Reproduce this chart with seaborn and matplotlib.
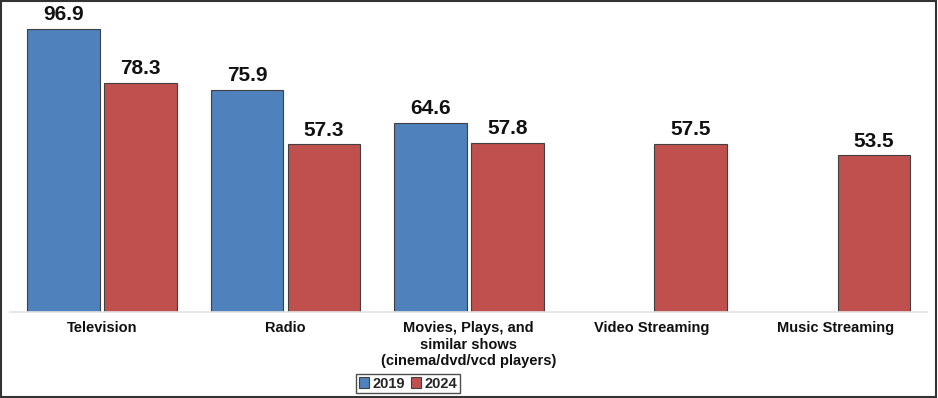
import matplotlib
matplotlib.use("Agg")
import matplotlib.pyplot as plt
import pandas as pd
import seaborn as sns

categories = [
    "Television",
    "Radio",
    "Movies, Plays, and\nsimilar shows\n(cinema/dvd/vcd players)",
    "Video Streaming",
    "Music Streaming",
]
years = ["2019", "2024"]
values_2019 = [96.9, 75.9, 64.6, None, None]
values_2024 = [78.3, 57.3, 57.8, 57.5, 53.5]
colors = ["#4F81BD", "#C0504D"]

rows = []
for cat, v19, v24 in zip(categories, values_2019, values_2024):
    if v19 is not None:
        rows.append({"category": cat, "year": "2019", "value": v19})
    rows.append({"category": cat, "year": "2024", "value": v24})
df = pd.DataFrame(rows)

sns.set_style("white")
plt.rcParams["font.family"] = ["Liberation Sans", "DejaVu Sans"]

fig = plt.figure(figsize=(9.38, 3.98), dpi=100)
ax = fig.add_axes([10.4 / 938, 86.3 / 398, 916.6 / 938, 306.6 / 398])

sns.barplot(
    data=df, x="category", y="value", hue="year",
    order=categories, hue_order=years, palette=colors, saturation=1,
    width=0.84, gap=0.057, edgecolor="#404040", linewidth=0.8,
    errorbar=None, ax=ax,
)

# value labels on top of each bar
for container in ax.containers:
    ax.bar_label(container, fmt="%.1f", padding=3.5, fontsize=15,
                 fontweight="bold", color="#111111")

ax.set_ylim(0, 105)
ax.set_xlim(-0.5, 4.5)
ax.set_xlabel("")
ax.set_ylabel("")
ax.set_yticks([])
ax.tick_params(axis="x", length=0, pad=7)
for lbl in ax.get_xticklabels():
    lbl.set_fontweight("bold")
    lbl.set_fontsize(10.5)
    lbl.set_color("#111111")

for side in ["top", "right", "left"]:
    ax.spines[side].set_visible(False)
ax.spines["bottom"].set_color("#e3e3e3")
ax.spines["bottom"].set_linewidth(1.2)

ax.legend_.remove()
handles = [plt.Rectangle((0, 0), 1, 1, facecolor=c, edgecolor="#404040",
                         linewidth=0.8) for c in colors]
leg = fig.legend(
    handles, years, loc="center", bbox_to_anchor=(408 / 938, 1 - 383.5 / 398),
    ncol=2, frameon=True, fancybox=False, handlelength=0.7, handleheight=0.7,
    handletextpad=0.25, columnspacing=0.4, borderpad=0.2, borderaxespad=0,
    prop={"weight": "bold", "size": 10.5},
)
leg.get_frame().set_edgecolor("#222222")
leg.get_frame().set_linewidth(1.0)

# outer border around the whole figure
fig.patches.append(plt.Rectangle((0.001, 0.002), 0.997, 0.995,
                                 transform=fig.transFigure, fill=False,
                                 edgecolor="#333333", linewidth=1.5))

fig.savefig("out.png", dpi=100)
